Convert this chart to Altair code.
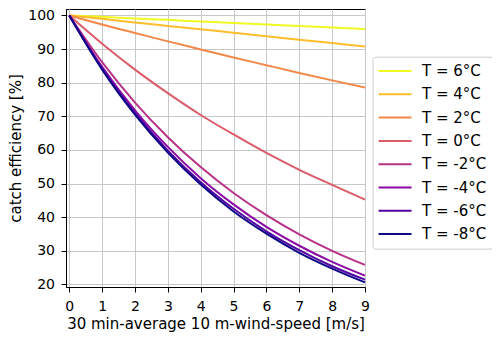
import altair as alt
import pandas as pd

wind_speed = [0, 1, 2, 3, 4, 5, 6, 7, 8, 9]

labels = ["T = 6°C", "T = 4°C", "T = 2°C", "T = 0°C",
          "T = -2°C", "T = -4°C", "T = -6°C", "T = -8°C"]

ce_p6 = [100, 99.6, 99.1, 98.7, 98.2, 97.8, 97.3, 96.9, 96.4, 96.0]
ce_p4 = [100, 99.0, 97.9, 96.9, 95.9, 94.9, 93.8, 92.8, 91.8, 90.8]
ce_p2 = [100, 97.3, 94.8, 92.3, 89.9, 87.5, 85.2, 82.9, 80.7, 78.6]
ce_0 = [100, 91.6, 83.9, 76.9, 70.4, 64.6, 59.1, 54.1, 49.6, 45.2]
ce_m2 = [100, 86.1, 74.1, 63.8, 54.9, 47.2, 40.6, 34.9, 30.0, 25.8]
ce_m4 = [100, 84.7, 71.8, 60.9, 51.6, 43.8, 37.1, 31.5, 26.7, 22.6]
ce_m6 = [100, 84.2, 71.0, 59.8, 50.4, 42.5, 35.8, 30.2, 25.4, 21.4]
ce_m8 = [100, 83.9, 70.5, 59.2, 49.7, 41.7, 35.1, 29.4, 24.7, 20.6]

colors = ["#f0f921", "#febd2a", "#f48849", "#db5c68",
          "#b83289", "#8b0aa5", "#5302a3", "#0d0887"]

series = [ce_p6, ce_p4, ce_p2, ce_0, ce_m2, ce_m4, ce_m6, ce_m8]

rows = []
for i, (lab, vals) in enumerate(zip(labels, series)):
    for u, v in zip(wind_speed, vals):
        rows.append({"u": u, "ce": v, "label": lab, "k": i})
df = pd.DataFrame(rows)

FONT = "DejaVu Sans"

chart = alt.Chart(df).mark_line(strokeWidth=2, interpolate="monotone").encode(
    x=alt.X("u:Q",
            scale=alt.Scale(domain=[-0.1, 9], nice=False, zero=False),
            axis=alt.Axis(values=wind_speed, title="30 min-average 10 m-wind-speed [m/s]",
                          labelFlush=False, labelOverlap=False,
                          titleX=149.5, titleY=36.5, titleBaseline="middle")),
    y=alt.Y("ce:Q",
            scale=alt.Scale(domain=[19.23, 101.93], nice=False, zero=False),
            axis=alt.Axis(values=[20, 30, 40, 50, 60, 70, 80, 90, 100],
                          title="catch efficiency [%]",
                          labelFlush=False,
                          titleX=-50.5, titleY=139, titleAngle=270,
                          titleBaseline="middle", titleAlign="center")),
    color=alt.Color("label:N",
                    scale=alt.Scale(domain=labels, range=colors),
                    sort=labels,
                    legend=alt.Legend(title=None, orient="none",
                                      legendX=306.5, legendY=47.7,
                                      labelExpr="datum.label + '\u2009'")),
    order=alt.Order("u:Q"),
).properties(
    width=299,
    height=278,
    autosize=alt.AutoSizeParams(type="none"),
    padding={"left": 58, "top": 1, "right": 127, "bottom": 45},
).configure_view(
    stroke="black", strokeWidth=1
).configure_axis(
    grid=True, gridColor="#c8c8c8", gridWidth=1,
    domainColor="black", domainWidth=1,
    tickColor="black", tickSize=5, tickWidth=1,
    labelFont=FONT, labelFontSize=14, labelColor="black",
    titleFont=FONT, titleFontSize=15, titleFontWeight="normal", titleColor="black",
).configure_axisX(
    labelPadding=7
).configure_axisY(
    labelPadding=6.5
).configure_legend(
    padding=5.8, rowPadding=6.3,
    symbolType="M-1.1,0H3.3", symbolSize=225, symbolStrokeWidth=2,
    labelFont=FONT, labelFontSize=15, labelColor="black", labelOffset=26.7,
    strokeColor="#cccccc", cornerRadius=3, fillColor="white",
    labelLimit=300,
)

chart.save("out.html", embed_options={"renderer": "svg", "actions": False})
